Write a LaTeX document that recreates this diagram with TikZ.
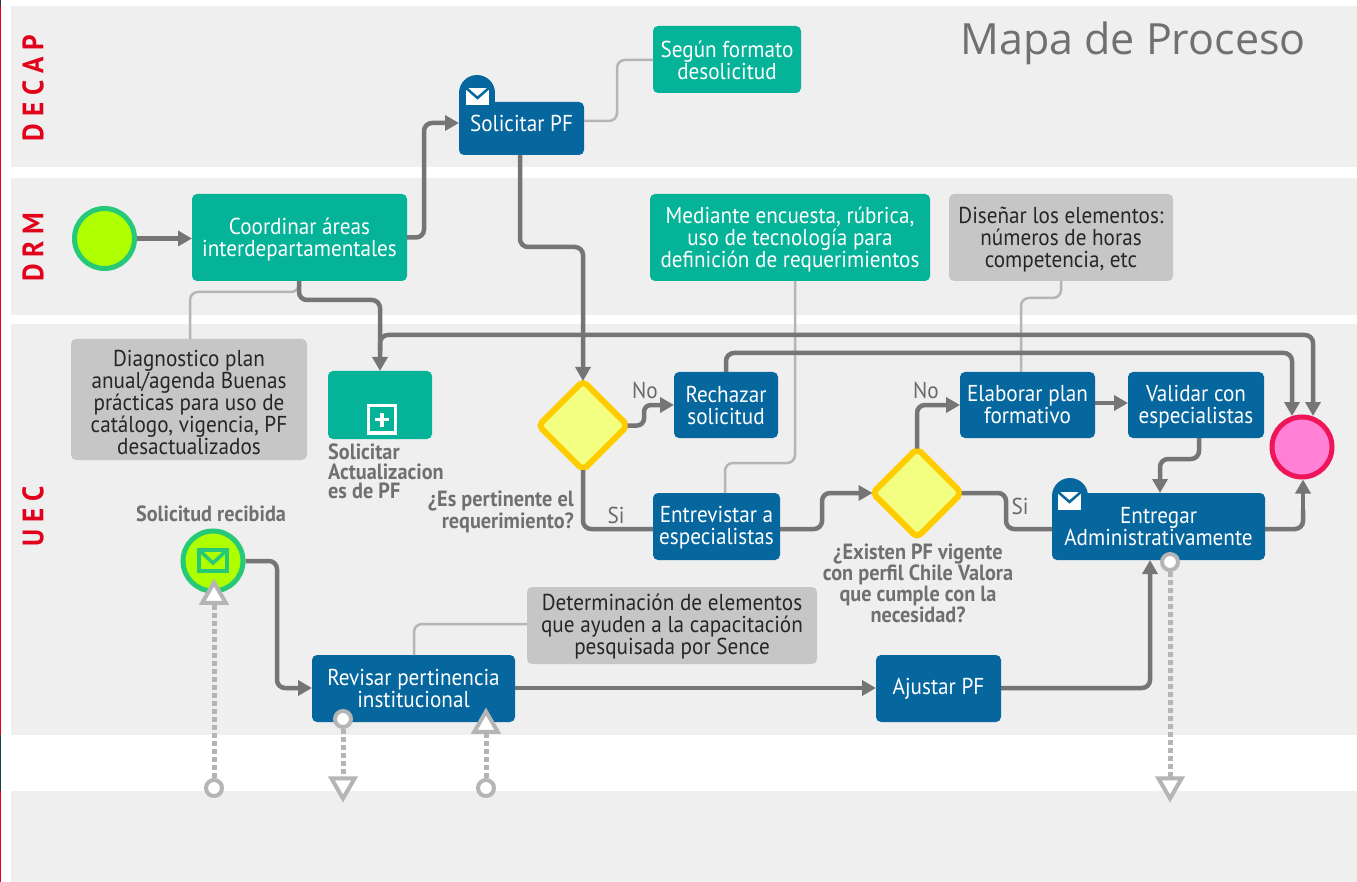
\documentclass[tikz,border=0pt]{standalone}
\usepackage{fontspec}
\setmainfont[FakeStretch=0.92]{PT Sans}
\newfontfamily\titlefont{Open Sans}
\usetikzlibrary{arrows.meta,shapes.geometric}
\definecolor{bandc}{HTML}{EFEFEF}
\definecolor{tealc}{HTML}{05B398}
\definecolor{bluec}{HTML}{06679F}
\definecolor{grayb}{HTML}{C6C6C6}
\definecolor{flowc}{HTML}{757575}
\definecolor{annc}{HTML}{B5B5B5}
\definecolor{limec}{HTML}{AEFF00}
\definecolor{ringg}{HTML}{26C978}
\definecolor{pinkc}{HTML}{FF80D5}
\definecolor{ringr}{HTML}{EE1558}
\definecolor{yelc}{HTML}{F3FF80}
\definecolor{goldc}{HTML}{FFCC00}
\definecolor{redt}{HTML}{E2001A}
\definecolor{labc}{HTML}{707070}
\definecolor{darkedge}{HTML}{1F3A4D}
\newcommand{\dn}[1]{\rule{0pt}{#1pt}}
\tikzset{
 box/.style={rectangle,rounded corners=5,inner sep=0,outer sep=0,align=center,font=\fontsize{23}{22}\selectfont},
 tealbox/.style={box,fill=tealc,text=white},
 bluebox/.style={box,fill=bluec,text=white},
 graybox/.style={box,fill=grayb,text=black!85},
 flow/.style={draw=flowc,line width=4.5,rounded corners=8,-{Triangle[length=14,width=15]}},
 flown/.style={draw=flowc,line width=4.5,rounded corners=8},
 ann/.style={draw=annc,line width=2.5,rounded corners=8},
 msg/.style={draw=annc,line width=5,dash pattern=on 5 off 3},
 lab/.style={text=labc,font=\bfseries\fontsize{22}{19.5}\selectfont,inner sep=0},
 branch/.style={text=flowc!90!black,font=\fontsize{23}{22}\selectfont,inner sep=0},
 lane/.style={text=redt,font=\bfseries\fontsize{29.5}{29.5}\selectfont,rotate=90,inner sep=0},
 gate/.style={diamond,aspect=1,minimum width=89,minimum height=89,inner sep=0,outer sep=0,draw=goldc,fill=yelc,line width=6,rounded corners=5},
 startev/.style={circle,minimum size=60,inner sep=0,outer sep=2.5,draw=ringg,fill=limec,line width=5},
 endev/.style={circle,minimum size=60,inner sep=0,outer sep=2.5,draw=ringr,fill=pinkc,line width=5},
 hole/.style={circle,minimum size=16,inner sep=0,outer sep=2,draw=annc,fill=white,line width=4},
 tri/.style={regular polygon,regular polygon sides=3,minimum size=27,inner sep=0,outer sep=0,draw=annc,fill=white,line width=4},
}
\begin{document}
\begin{tikzpicture}[x=1pt,y=-1pt]
\useasboundingbox (0,0) rectangle (1357,882);
% page edge and bands
\fill[white] (0,0) rectangle (1357,882);
\fill[redt] (0,0) rectangle (1.2,882);
\fill[darkedge] (0,735) rectangle (1.2,791);
\fill[darkedge] (0,0) rectangle (1.2,6);
\fill[bandc] (11,6) rectangle (1357,167);
\fill[bandc] (11,178) rectangle (1357,315);
\fill[bandc] (11,324) rectangle (1357,735);
\fill[bandc] (11,791) rectangle (1357,882);
% lanes and title
\node[lane] (l1) at (33,88) {D E C A P};
\node[lane] (l2) at (33,247) {D R M};
\node[lane] (l3) at (33,516) {U E C};
\node[text=labc,font=\titlefont\fontsize{43}{46}\selectfont,inner sep=0] (title) at (1133,43) {Mapa de Proceso};
% task tabs
\fill[bluec] (477,93) circle (18);
\fill[bluec] (459,93) rectangle (495,108);
\fill[bluec] (1070,496) circle (18);
\fill[bluec] (1052,496) rectangle (1088,510);
% tasks
\node[tealbox,minimum width=215,minimum height=87] (coord) at (299.5,237.5) {\dn{21}Coordinar áreas\\interdepartamentales};
\node[bluebox,minimum width=125,minimum height=53] (pf) at (521.5,128.5) {\raisebox{10pt}{Solicitar PF}};
\node[tealbox,minimum width=148,minimum height=67] (segun) at (727,59.5) {\dn{19}Según formato\\desolicitud};
\node[tealbox,minimum width=280,minimum height=87] (mediante) at (790,237.5) {\dn{21}Mediante encuesta, rúbrica,\\uso de tecnología para\\definición de requerimientos};
\node[graybox,minimum width=224,minimum height=87] (disenar) at (1061,237.5) {\dn{21}Diseñar los elementos:\\números de horas\\competencia, etc};
\node[graybox,minimum width=236,minimum height=121] (diag) at (189,399.5) {\dn{22}Diagnostico plan\\anual/agenda Buenas\\prácticas para uso de\\catálogo, vigencia, PF\\desactualizados};
\node[tealbox,minimum width=104,minimum height=68] (act) at (380,405) {};
\node[bluebox,minimum width=104,minimum height=66] (rech) at (726,405) {Rechazar\\solicitud};
\node[bluebox,minimum width=127,minimum height=67] (entre) at (716.5,526.5) {\dn{19}Entrevistar a\\especialistas};
\node[bluebox,minimum width=135,minimum height=66] (elab) at (1027.5,405) {Elaborar plan\\formativo};
\node[bluebox,minimum width=136,minimum height=66] (valid) at (1196,405) {\dn{19}Validar con\\especialistas};
\node[bluebox,minimum width=213,minimum height=67] (entrega) at (1158.5,526.5) {Entregar\\Administrativamente};
\node[bluebox,minimum width=125,minimum height=67] (ajustar) at (938.5,688.5) {Ajustar PF};
\node[bluebox,minimum width=203,minimum height=67] (revisar) at (413.5,688.5) {Revisar pertinencia\\institucional};
\node[graybox,minimum width=290,minimum height=77] (deter) at (672,625.5) {\dn{18}Determinación de elementos\\que ayuden a la capacitación\\pesquisada por Sence};
% gateways and events
\node[gate] (g1) at (583,425.5) {};
\node[gate] (g2) at (917,493) {};
\node[startev] (start) at (104.5,238.5) {};
\node[startev] (recv) at (213,561) {};
\node[endev] (endn) at (1302,447) {};
% sub-process marker
\draw[white,line width=3.5] (368.5,405.5) rectangle (395.5,433);
\draw[white,line width=3.5] (375,419.5) -- (389,419.5) (382,412.5) -- (382,426.5);
% envelopes
\fill[white] (466,88) rectangle (489,105);
\draw[bluec,line width=2.5] (465,87) -- (477.5,98) -- (490,87);
\fill[white] (1058,492) rectangle (1081,510);
\draw[bluec,line width=2.5] (1057,491) -- (1069.5,502) -- (1082,491);
\draw[ringg,line width=4] (199,550) rectangle (227,571);
\draw[ringg,line width=3.5] (199,550) -- (213,563) -- (227,550);
% annotations
\draw[ann] (pf.east |- 0,121) -- (617,121) -- (617,60) -- (segun.west |- 0,60);
\draw[ann] (coord.south -| 299,0) -- (299,292) -- (190,292) -- (diag.north -| 190,0);
\draw[ann] (mediante.south -| 795,0) -- (795,463) -- (725,463) -- (entre.north -| 725,0);
\draw[ann] (disenar.south -| 1061,0) -- (1061,298) -- (1021,298) -- (elab.north -| 1021,0);
\draw[ann] (deter.west |- 0,624) -- (414,624) -- (revisar.north -| 414,0);
% sequence flows
\draw[flow] (start.east) -- (coord.west |- start.east);
\draw[flow] (coord.east) -- (424,237.5) -- (424,123) -- (pf.west |- 0,123);
\draw[flow] (pf.south -| 520,0) -- (520,247) -- (583,247) -- (g1.north);
\draw[flow] (coord.south -| 299,0) -- (299,300) -- (380,300) -- (act.north);
\draw[flow] (act.north -| 380,0) ++(0,-20) -- (380,335) -- (1313,335) -- (1313,416);
\draw[flow] (rech.north) -- (726,353) -- (1292,353) -- (1292,416);
\draw[flow,rounded corners=7] (g1.east) -- (644,425.5) -- (644,405) -- (rech.west);
\draw[flown] (g1.south) -- (583,529) -- (entre.west |- 0,529);
\draw[flow] (entre.east |- 0,529) -- (822,529) -- (822,493) -- (g2.west);
\draw[flow] (g2.north) -- (917,405) -- (elab.west);
\draw[flown] (g2.east) -- (1006,493) -- (1006,529) -- (entrega.west |- 0,529);
\draw[flow] (elab.east |- 0,403) -- (valid.west |- 0,403);
\draw[flow] (valid.south -| 1199,0) -- (1199,459) -- (1160,459) -- (entrega.north -| 1160,0);
\draw[flown] (entrega.east |- 0,529) -- (1303,529) -- (1303,510);
\draw[flow] (1303,515) -- (endn.south -| 1303,0);
\draw[flow] (revisar.east |- 0,688) -- (ajustar.west |- 0,688);
\draw[flow] (ajustar.east |- 0,688) -- (1150,688) -- (entrega.south -| 1150,0);
\draw[flow] (recv.east) -- (277,561) -- (277,688) -- (revisar.west |- 0,688);
% message flows
\node[hole] (h1) at (214,788) {};
\node[tri] (t1) at (214,596) {};
\draw[msg] (h1.north) -- (t1.side 2);
\node[hole] (h2) at (343,719) {};
\node[tri,shape border rotate=180] (t2) at (343,785) {};
\draw[msg] (h2.south) -- (t2.side 2);
\node[hole] (h3) at (486,788) {};
\node[tri] (t3) at (486,725) {};
\draw[msg] (h3.north) -- (t3.side 2);
\node[hole] (h4) at (1170,562) {};
\node[tri,shape border rotate=180] (t4) at (1170,785) {};
\draw[msg] (h4.south) -- (t4.side 2);
% labels
\node[lab] (n1) at (211,514) {Solicitud recibida};
\node[lab,anchor=north west,align=left] (n2) at (328,444) {Solicitar\\Actualizacion\\es de PF};
\node[lab,anchor=east,align=right] (n3) at (574,512) {¿Es pertinente el\\requerimiento?};
\node[lab,align=center] (n4) at (918,583) {¿Existen PF vigente\\con perfil Chile Valora\\que cumple con la\\necesidad?};
\node[branch] (no1) at (645,390) {No};
\node[branch] (si1) at (616,515) {Si};
\node[branch] (no2) at (926,390) {No};
\node[branch] (si2) at (1020,506) {Si};
\end{tikzpicture}
\end{document}
